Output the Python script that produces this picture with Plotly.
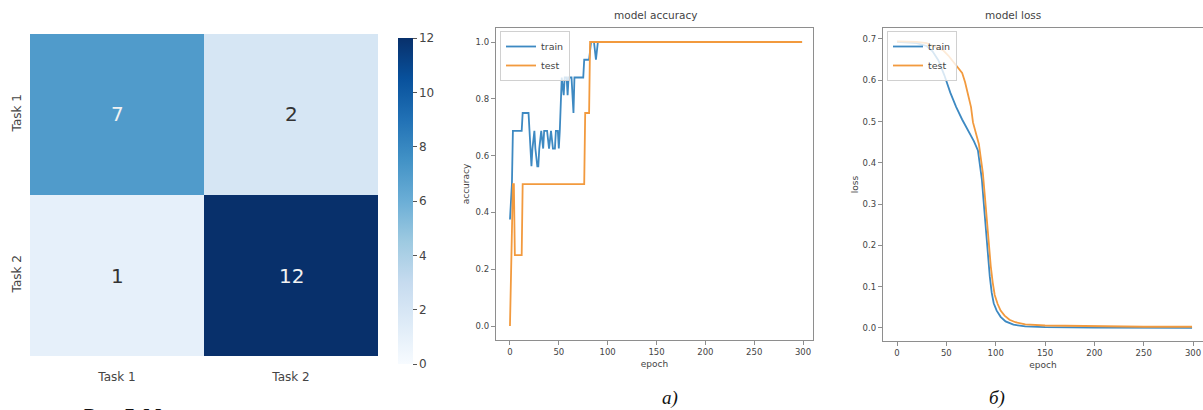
import plotly.graph_objects as go

# ---------------- data ----------------
tasks = ["Task 1", "Task 2"]
conf_matrix = [[7, 2],
               [1, 12]]
cbar_ticks = [0, 2, 4, 6, 8, 10, 12]

# accuracy (breakpoints: epoch, value)
acc_train_epoch = [0, 2, 3, 12, 13, 19, 20, 22, 23, 25, 26, 28, 29, 30, 32, 34, 35, 38, 40, 42, 44, 46,
                   47, 49, 50, 51, 53, 55, 56, 58, 59, 60, 63, 65, 66, 75, 76, 81, 83, 86, 88, 90, 299]
acc_train = [0.375, 0.5, 0.6875, 0.6875, 0.75, 0.75, 0.6875, 0.5625, 0.625, 0.6875, 0.625, 0.5625, 0.5625,
             0.625, 0.6875, 0.625, 0.6875, 0.6875, 0.625, 0.6875, 0.625, 0.625,
             0.6875, 0.6875, 0.625, 0.6875, 0.875, 0.8125, 0.875, 0.875, 0.8125, 0.875, 0.875, 0.75, 0.875,
             0.875, 0.9375, 0.9375, 1.0, 1.0, 0.9375, 1.0, 1.0]
acc_test_epoch = [0, 3, 4, 5, 12, 13, 76, 77, 81, 82, 299]
acc_test = [0.0, 0.5, 0.5, 0.25, 0.25, 0.5, 0.5, 0.75, 0.75, 1.0, 1.0]

# loss (breakpoints: epoch, value)
loss_train_epoch = [0, 10, 20, 30, 36, 42, 48, 54, 60, 66, 72, 78, 82, 84, 86, 88, 90, 92, 94, 96, 98,
                    101, 105, 110, 118, 130, 150, 200, 299]
loss_train = [0.693, 0.692, 0.69, 0.683, 0.67, 0.648, 0.612, 0.570, 0.535, 0.505, 0.478, 0.452, 0.43,
              0.40, 0.36, 0.30, 0.24, 0.18, 0.125, 0.085, 0.06, 0.042, 0.027, 0.016, 0.008, 0.004,
              0.002, 0.001, 0.0005]
loss_test_epoch = [0, 20, 30, 40, 47, 52, 57, 62, 66, 69, 72, 75, 77, 80, 83, 85, 87, 89, 91, 93, 95, 97,
                   99, 102, 105, 109, 114, 120, 130, 150, 200, 250, 299]
loss_test = [0.694, 0.693, 0.69, 0.68, 0.672, 0.66, 0.645, 0.63, 0.618, 0.595, 0.568, 0.535, 0.498, 0.47,
             0.445, 0.41, 0.375, 0.32, 0.26, 0.20, 0.15, 0.11, 0.08, 0.058, 0.042, 0.03, 0.02, 0.014,
             0.009, 0.006, 0.004, 0.003, 0.003]

acc_yticks = [0.0, 0.2, 0.4, 0.6, 0.8, 1.0]
loss_yticks = [0.0, 0.1, 0.2, 0.3, 0.4, 0.5, 0.6, 0.7]
epoch_ticks = [0, 50, 100, 150, 200, 250, 300]

# ---------------- styling ----------------
W, H = 1203, 410
BLUE = "#3d89c2"
ORANGE = "#f29a3e"
SPINE = "#8e8e8e"
TXT = "#444444"
FONT = "DejaVu Sans"
blues = [[0.0, "#f7fbff"], [0.125, "#deebf7"], [0.25, "#c6dbef"], [0.375, "#9ecae1"],
         [0.5, "#6baed6"], [0.625, "#4292c6"], [0.75, "#2171b5"], [0.875, "#08519c"], [1.0, "#08306b"]]


def px(x):
    return x / W


def py(y):
    return 1 - y / H


fig = go.Figure()

# heatmap
fig.add_trace(go.Heatmap(
    z=conf_matrix, x=tasks, y=tasks, colorscale=blues, zmin=0, zmax=12,
    xaxis="x", yaxis="y", showscale=True, xgap=0, ygap=0,
    colorbar=dict(x=px(398), xanchor="left", y=py(38), yanchor="top", len=326 / H, lenmode="fraction",
                  thickness=15, thicknessmode="pixels", xpad=0, ypad=0, outlinewidth=0,
                  tickvals=cbar_ticks, ticks="outside", ticklen=4, tickcolor="#555555",
                  tickfont=dict(family=FONT, size=12, color=TXT)),
))

for i, row in enumerate(conf_matrix):
    for j, v in enumerate(row):
        fig.add_annotation(x=tasks[j], y=tasks[i], xref="x", yref="y", text=str(v), showarrow=False,
                           font=dict(family=FONT, size=20, color="#f2f2f2" if v > 5 else "#333333"))

# accuracy
fig.add_trace(go.Scatter(x=acc_train_epoch, y=acc_train, mode="lines", name="train",
                         line=dict(color=BLUE, width=1.8), xaxis="x2", yaxis="y2", legend="legend"))
fig.add_trace(go.Scatter(x=acc_test_epoch, y=acc_test, mode="lines", name="test",
                         line=dict(color=ORANGE, width=1.8), xaxis="x2", yaxis="y2", legend="legend"))

# loss
fig.add_trace(go.Scatter(x=loss_train_epoch, y=loss_train, mode="lines", name="train",
                         line=dict(color=BLUE, width=1.8), xaxis="x3", yaxis="y3", legend="legend2"))
fig.add_trace(go.Scatter(x=loss_test_epoch, y=loss_test, mode="lines", name="test",
                         line=dict(color=ORANGE, width=1.8), xaxis="x3", yaxis="y3", legend="legend2"))

small = dict(family=FONT, size=8.5, color=TXT)
lab = dict(family=FONT, size=9, color=TXT)

common_x = dict(showline=True, linecolor=SPINE, linewidth=1.3, mirror=True, showgrid=False, zeroline=False,
                ticks="outside", ticklen=4, tickcolor=SPINE, tickfont=small, tickvals=epoch_ticks,
                automargin=False)
common_y = dict(showline=True, linecolor=SPINE, linewidth=1.3, mirror=True, showgrid=False, zeroline=False,
                ticks="outside", ticklen=4, tickcolor=SPINE, tickfont=small, automargin=False)

legend_style = dict(bgcolor="rgba(255,255,255,0.8)", bordercolor="#d0d0d0", borderwidth=1,
                    font=dict(family=FONT, size=9.5, color=TXT), xanchor="left", yanchor="top",
                    itemwidth=30, tracegroupgap=0)

fig.update_layout(
    width=W, height=H, margin=dict(l=0, r=0, t=0, b=0, autoexpand=False),
    paper_bgcolor="white", plot_bgcolor="white",
    xaxis=dict(domain=[px(30), px(378)], anchor="y", showgrid=False, zeroline=False, showline=False,
               ticks="", ticklabelstandoff=12, tickfont=dict(family=FONT, size=12, color=TXT),
               automargin=False),
    yaxis=dict(domain=[py(356), py(34)], anchor="x", autorange="reversed", showgrid=False, zeroline=False,
               showline=False, ticks="", tickangle=-90, ticklabelstandoff=6,
               tickfont=dict(family=FONT, size=12, color=TXT), automargin=False),
    xaxis2=dict(domain=[px(496), px(813)], anchor="y2", range=[-14.3, 310.2], **common_x,
                title=dict(text="epoch", font=lab, standoff=4)),
    yaxis2=dict(domain=[py(340), py(28)], anchor="x2", range=[-0.049, 1.0493], tickvals=acc_yticks,
                tickformat=".1f", **common_y, title=dict(text="accuracy", font=lab, standoff=4)),
    xaxis3=dict(domain=[px(883), 1.0], anchor="y3", range=[-14.2, 310.1], **common_x,
                title=dict(text="epoch", font=lab, standoff=4)),
    yaxis3=dict(domain=[py(341), py(28)], anchor="x3", range=[-0.0315, 0.7266], tickvals=loss_yticks,
                tickformat=".1f", **common_y, title=dict(text="loss", font=lab, standoff=2)),
    legend=dict(x=px(500), y=py(31), **legend_style),
    legend2=dict(x=px(887), y=py(31), **legend_style),
    showlegend=True,
)

# subplot titles
fig.add_annotation(x=px(655), y=py(15), xref="paper", yref="paper", text="model accuracy", showarrow=False,
                   font=dict(family=FONT, size=10.5, color=TXT), yanchor="middle")
fig.add_annotation(x=px(1043), y=py(15), xref="paper", yref="paper", text="model loss", showarrow=False,
                   font=dict(family=FONT, size=10.5, color=TXT), yanchor="middle")

# captions
cap = dict(family="Liberation Serif", size=19, color="#111111")
fig.add_annotation(x=px(670), y=py(398), xref="paper", yref="paper", text="<i>а)</i>", showarrow=False,
                   font=cap, yanchor="middle")
fig.add_annotation(x=px(1007), y=py(398), xref="paper", yref="paper", text="<i>б)</i>", showarrow=False,
                   font=cap, yanchor="middle")
fig.add_annotation(x=px(82), y=py(403), xref="paper", yref="paper", text="<b>Рис. 7. М</b>", showarrow=False,
                   font=dict(family="Liberation Serif", size=19, color="#111111"), xanchor="left", yanchor="top")

fig.write_html("out.html", config={"displayModeBar": False},
               post_script="document.body.style.margin='0';document.body.style.overflow='hidden';")
